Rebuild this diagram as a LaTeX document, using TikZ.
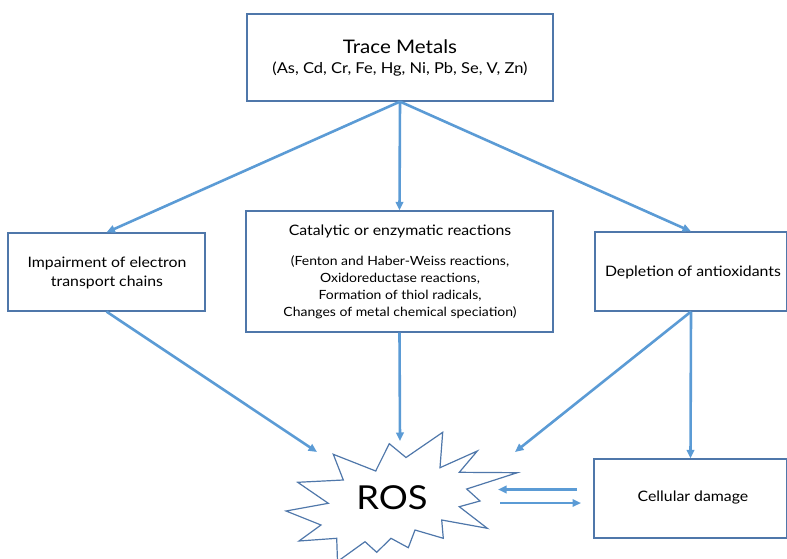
\documentclass[tikz,border=0pt]{standalone}
\usepackage{fontspec}
\setmainfont{Lato}[FakeStretch=1.1]
\usetikzlibrary{arrows.meta}
\definecolor{boxc}{HTML}{4F77AA}
\definecolor{arrc}{HTML}{5B9BD5}
\begin{document}
\begin{tikzpicture}[x=1pt,y=-1pt,
  box/.style={draw=boxc,line width=1.2pt,fill=white,inner sep=0pt},
  lbl/.style={inner sep=0pt,align=center,font=\fontsize{14.4}{19}\selectfont},
  arr/.style={draw=arrc,line width=2.6pt,-{Triangle[length=8.5pt,width=7.5pt]}},
  burst/.style={draw=boxc,line width=1.2pt,fill=white,line join=miter}]
\useasboundingbox (0,0) rectangle (787,559);
% boxes
\node[box,minimum width=306pt,minimum height=87pt] (tm) at (400,57.5) {};
\node[box,minimum width=197pt,minimum height=78pt] (imp) at (106.5,272) {};
\node[box,minimum width=307pt,minimum height=121pt] (cat) at (399.5,271.5) {};
\node[box,minimum width=192pt,minimum height=79pt] (dep) at (691,271.5) {};
\node[box,minimum width=193pt,minimum height=79pt] (cd) at (690.5,498.5) {};
% texts
\node[lbl,font=\fontsize{18.7}{22}\selectfont] (tmt) at (400,47) {Trace Metals};
\node[lbl,font=\fontsize{15}{16}\selectfont] (tms) at (400,69.5) {(As, Cd, Cr, Fe, Hg, Ni, Pb, Se, V, Zn)};
\node[lbl] (impt) at (107,272.5) {Impairment of electron\\transport chains};
\node[lbl] (catt) at (400,231.5) {Catalytic or enzymatic reactions};
\node[lbl,font=\fontsize{12.7}{17}\selectfont] (cats) at (400,287) {(Fenton and Haber-Weiss reactions,\\Oxidoreductase reactions,\\Formation of thiol radicals,\\Changes of metal chemical speciation)};
\node[lbl] (dept) at (693,272) {Depletion of antioxidants};
\node[lbl] (cdt) at (693,498) {Cellular damage};
% ROS burst
\draw[burst] (286,511) -- (328.3,503.3) -- (297.7,482.3) -- (343.3,480) -- (333.3,454.3)
  -- (375.7,471) -- (389.3,443.7) -- (406,457.5) -- (442.7,432.3) -- (440,467.7)
  -- (477.3,451) -- (459.3,472.3) -- (517.3,472.7) -- (466.7,489) -- (480,501)
  -- (459.3,506.7) -- (487.3,528.3) -- (441.7,520) -- (443.3,538.3) -- (415,530)
  -- (408.3,547.7) -- (391,538.3) -- (376.7,552.3) -- (365,541.7) -- (337.5,561.5)
  -- (336.7,538.3) -- (299,541) -- (321,525) -- cycle;
\node[inner sep=0pt,font=\fontsize{33}{38}\selectfont] (ros) at (392,497.5) {ROS};
% connector end points at the burst
\coordinate (rosL) at (317,452);
\coordinate (rosT) at (400,441);
\coordinate (rosR) at (515,452);
\coordinate (rosIn) at (498,489.5);
\coordinate (rosOut) at (500,503);
\coordinate (cdIn) at (577,489.5);
\coordinate (cdOut) at (581,503);
% arrows
\draw[arr] (tm.south) -- (imp.north);
\draw[arr] (tm.south) -- (cat.north);
\draw[arr] (tm.south) -- (dep.north);
\draw[arr] (imp.south) -- (rosL);
\draw[arr] (cat.south) -- (rosT);
\draw[arr] (dep.south) -- (rosR);
\draw[arr] (dep.south) -- (cd.north);
\draw[arr] (cdIn) -- (rosIn);
\draw[arr] (rosOut) -- (cdOut);
\end{tikzpicture}
\end{document}
